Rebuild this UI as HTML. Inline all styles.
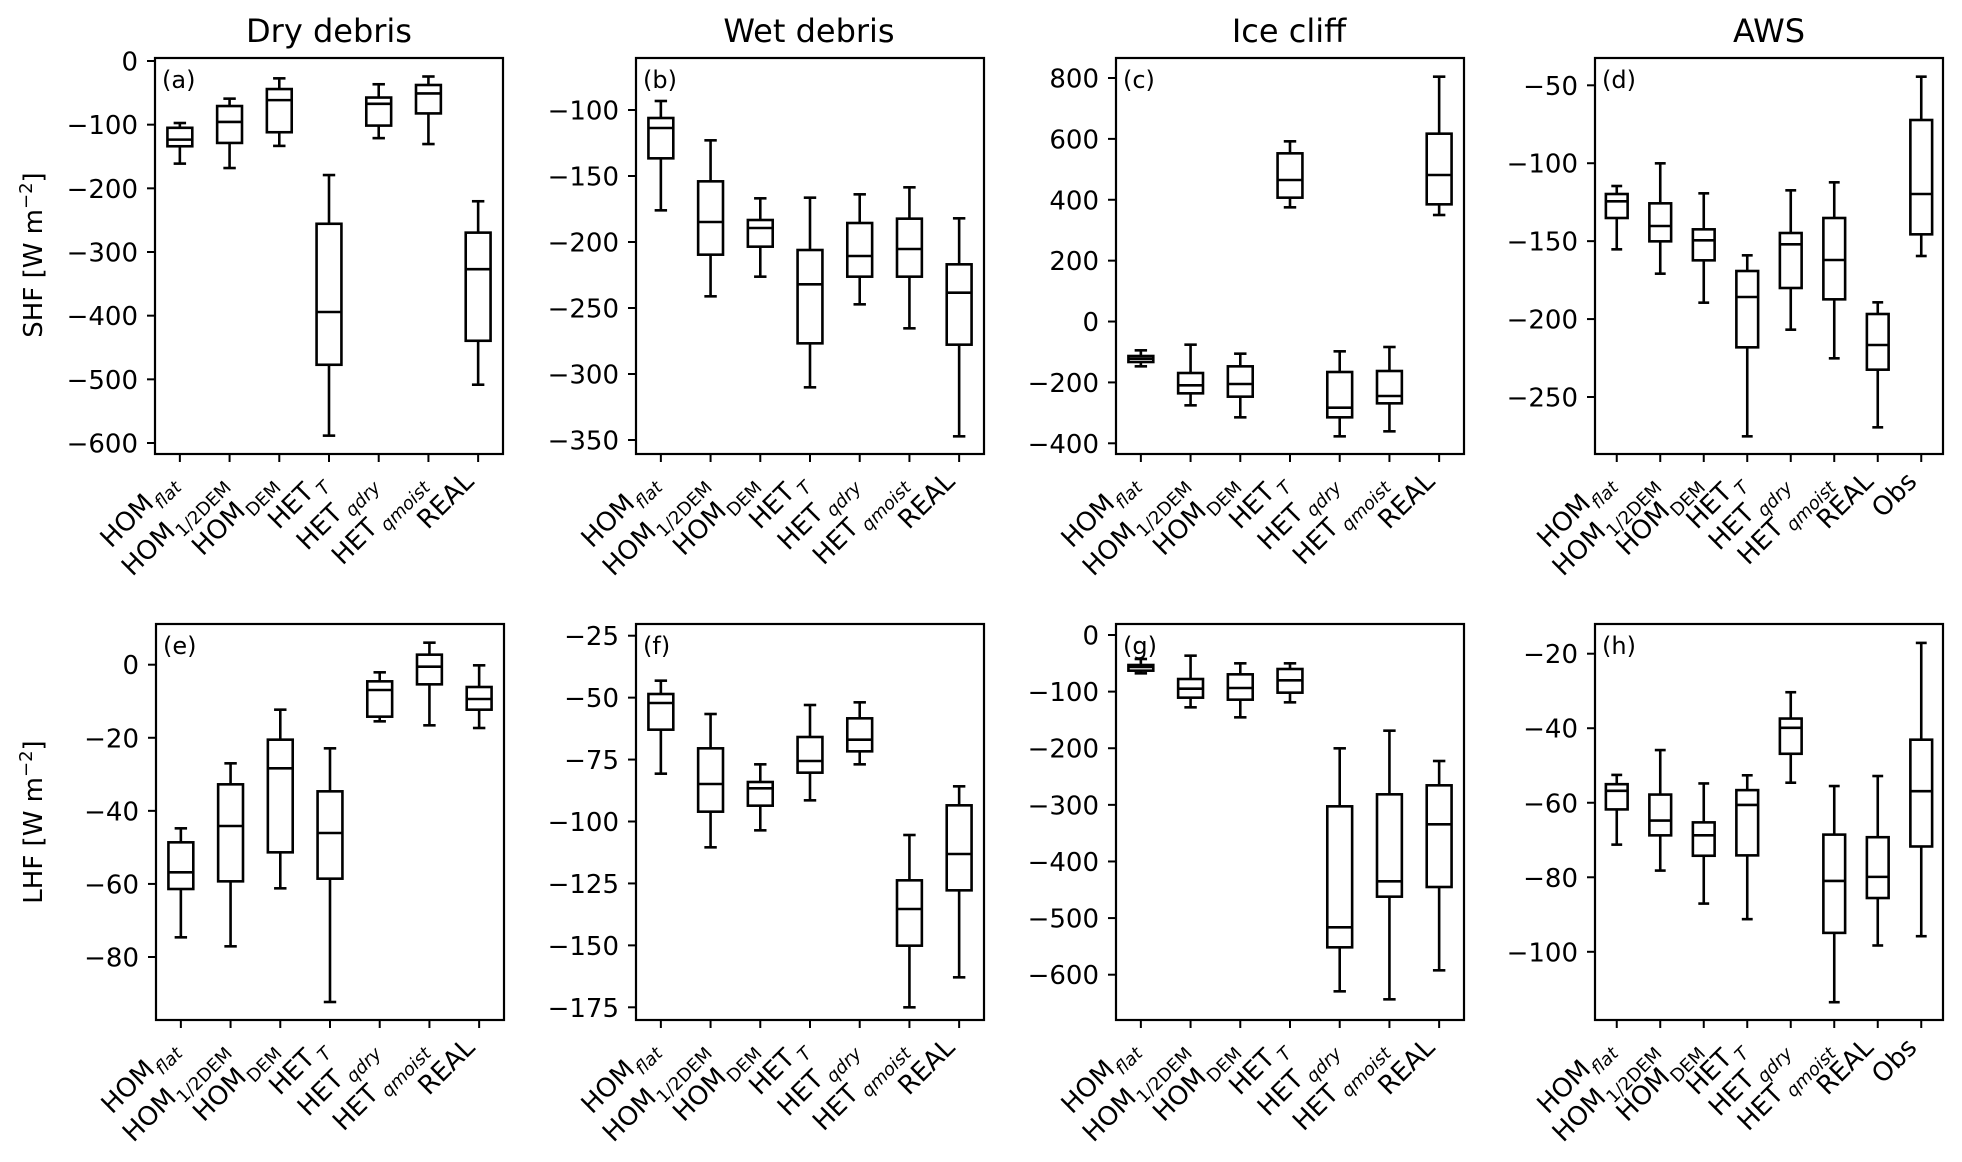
<!DOCTYPE html>
<html><head><meta charset="utf-8"><style>
html,body{margin:0;padding:0;background:#fff;}
svg{display:block;}
text{font-family:"DejaVu Sans","Liberation Sans",sans-serif;fill:#000;}
</style></head><body>
<svg id="s" width="1962" height="1162" viewBox="0 0 1962 1162" xmlns="http://www.w3.org/2000/svg">
<rect width="1962" height="1162" fill="#fff"/>
<text x="329" y="42" font-size="32" text-anchor="middle">Dry debris</text>
<text x="809" y="42" font-size="32" text-anchor="middle">Wet debris</text>
<text x="1289" y="42" font-size="32" text-anchor="middle">Ice cliff</text>
<text x="1769" y="42" font-size="32" text-anchor="middle">AWS</text>
<text transform="translate(42,255) rotate(-90)" font-size="26" text-anchor="middle">SHF [W m<tspan dy="-10" font-size="18">−2</tspan><tspan dy="10">]</tspan></text>
<text transform="translate(42,822) rotate(-90)" font-size="26" text-anchor="middle">LHF [W m<tspan dy="-10" font-size="18">−2</tspan><tspan dy="10">]</tspan></text>
</svg>
<script>
const svg=document.getElementById('s');
const NS='http://www.w3.org/2000/svg';
function el(t,a,txt){const e=document.createElementNS(NS,t);for(const k in a)e.setAttribute(k,a[k]);if(txt!==undefined)e.textContent=txt;svg.appendChild(e);return e;}
const top3=y=>48+y/3, bot3=y=>614+y/3;
function range(a,b,s){const r=[];for(let v=a;s<0?v>=b-1e-9:v<=b+1e-9;v+=s)r.push(v);return r;}
const P=[
{x:155,y:58,l:'a',ticks:range(0,-600,-100),cal:[0,61,-600,443],conv:y=>61+(y-165)*0.3691,
 b:[[333,346,378,396,443],[267,287,330,387,455],[212,241,271,358,395],[474,606,845,988,1180],[228,264,281,340,374],[207,230,253,307,390],[545,630,729,923,1042]]},
{x:636,y:58,l:'b',ticks:range(-100,-350,-50),cal:[-100,110,-350,440],conv:top3,
 b:[[159,210,240,331,487],[277,400,522,620,745],[451,516,540,596,686],[449,606,709,886,1018],[439,525,624,686,769],[418,512,603,686,841],[511,649,734,890,1165]]},
{x:1116,y:58,l:'c',ticks:range(800,-400,-200),cal:[800,78,-400,443.3],conv:top3,
 b:[[907,924,932,942,955],[890,975,1012,1036,1072],[917,955,1008,1046,1108],[280,316,396,449,478],[910,972,1079,1108,1165],[897,969,1044,1066,1150],[86,257,381,469,501]]},
{x:1595,y:58,l:'d',ticks:range(-50,-250,-50),cal:[-50,85.3,-250,397],conv:top3,
 b:[[414,438,460,510,604],[346,466,534,580,677],[436,544,577,637,764],[622,669,747,898,1165],[427,555,589,720,845],[403,510,636,754,931],[763,798,891,965,1138],[86,216,438,559,624]]},
{x:156,y:624,l:'e',ticks:range(0,-80,-20),cal:[0,664.7,-80,957],conv:bot3,
 b:[[643,685,775,825,970],[448,511,636,802,997],[287,377,463,715,823],[403,532,657,794,1164],[175,202,228,308,322],[86,122,158,211,334],[154,219,255,287,342]]},
{x:636,y:624,l:'f',ticks:range(-25,-175,-25),cal:[-25,635.7,-175,1007.3],conv:bot3,
 b:[[200,240,267,347,479],[300,403,510,593,700],[451,504,523,575,649],[273,369,441,476,559],[265,313,377,412,451],[663,799,885,995,1180],[517,574,720,829,1090]]},
{x:1116,y:624,l:'g',ticks:range(0,-600,-100),cal:[0,635,-600,974.7],conv:bot3,
 b:[[135,153,159,170,178],[125,195,224,251,280],[148,181,222,257,310],[148,165,199,236,265],[403,577,940,1000,1132],[350,541,802,848,1156],[441,514,631,819,1069]]},
{x:1595,y:624,l:'h',ticks:range(-20,-100,-20),cal:[-20,653.7,-100,951.8],conv:y=>624+(y-118)*0.3708,
 b:[[525,550,568,618,713],[458,578,648,688,783],[548,653,688,743,872],[526,566,606,742,914],[302,373,398,468,546],[555,686,811,951,1138],[528,693,800,857,985],[169,430,569,718,960]]}
];
const LAB=[['HOM','flat',1,0],['HOM','1/2DEM',0,0],['HOM','DEM',0,0],['HET','T',1,1],['HET','qdry',1,1],['HET','qmoist',1,1],['REAL'],['Obs']];
const W=348,H=396,lw=2.6;
P.forEach(p=>{
 const n=p.b.length, sp=W/n, bw=sp*0.5;
 const [v1,y1,v2,y2]=p.cal;
 p.ticks.forEach(v=>{
  const y=y1+(v-v1)*(y2-y1)/(v2-v1);
  el('line',{x1:p.x-8,x2:p.x,y1:y,y2:y,stroke:'#000','stroke-width':2});
  el('text',{x:p.x-17,y:y+9.5,'font-size':26,'text-anchor':'end'},(v<0?'−':'')+Math.abs(v));
 });
 p.b.forEach((b,i)=>{
  const cx=p.x+sp*(i+0.5);
  const [hi,q3,md,q1,lo]=b.map(p.conv);
  el('line',{x1:cx,x2:cx,y1:hi,y2:q3,stroke:'#000','stroke-width':lw});
  el('line',{x1:cx,x2:cx,y1:q1,y2:lo,stroke:'#000','stroke-width':lw});
  el('line',{x1:cx-bw/4,x2:cx+bw/4,y1:hi,y2:hi,stroke:'#000','stroke-width':lw});
  el('line',{x1:cx-bw/4,x2:cx+bw/4,y1:lo,y2:lo,stroke:'#000','stroke-width':lw});
  el('rect',{x:cx-bw/2,y:q3,width:bw,height:q1-q3,stroke:'#000','stroke-width':lw,fill:'none'});
  el('line',{x1:cx-bw/2,x2:cx+bw/2,y1:md,y2:md,stroke:'#000','stroke-width':lw});
  el('line',{x1:cx,x2:cx,y1:p.y+H,y2:p.y+H+8,stroke:'#000','stroke-width':2});
  const L=LAB[i];
  const ex=cx-3, ey=p.y+H+29;
  const t=el('text',{transform:`translate(${ex},${ey}) rotate(-45)`,'font-size':26,'text-anchor':'end'});
  const t1=document.createElementNS(NS,'tspan');t1.textContent=L[0];t.appendChild(t1);
  if(L.length>1){const t2=document.createElementNS(NS,'tspan');t2.setAttribute('dy','8');t2.setAttribute('dx',L[3]?'4':'1');t2.setAttribute('font-size','18');if(L[2])t2.setAttribute('font-style','italic');t2.textContent=L[1];t.appendChild(t2);}
 });
 el('rect',{x:p.x,y:p.y,width:W,height:H,fill:'none',stroke:'#000','stroke-width':2.2});
 el('text',{x:p.x+7,y:p.y+30,'font-size':24},'('+p.l+')');
});
</script>
</body></html>
